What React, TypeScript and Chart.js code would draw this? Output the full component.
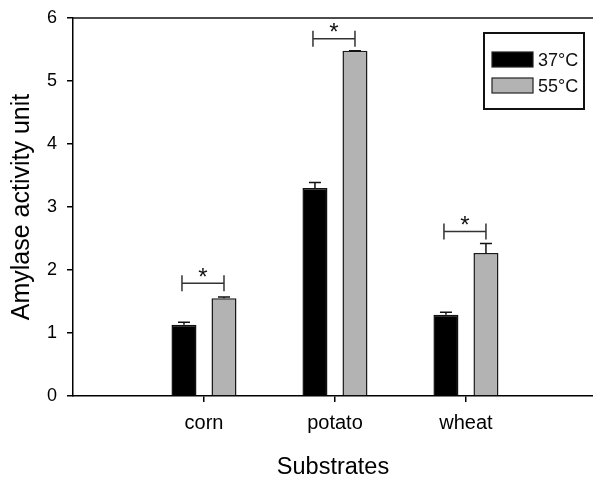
import React, { useEffect, useRef } from 'react';
import { Chart, registerables } from 'chart.js';

Chart.register(...registerables);

// ---- data ----
const categories = ['corn', 'potato', 'wheat'];
const seriesLabels = ['37°C', '55°C'];
const values37 = [1.13, 3.3, 1.29];
const values55 = [1.55, 5.48, 2.27];
const errors37 = [0.04, 0.09, 0.04];
const errors55 = [0.02, 0.0, 0.15];
const sigLevels = [1.79, 5.67, 2.61];
const sigMarks = ['*', '*', '*'];
const yTickMin = 0;
const yTickMax = 6;
const yTickStep = 1;
const xRangeMax = 3.97;

const FONT = "'Liberation Sans', Arial, Helvetica, sans-serif";
const colors = ['#000000', '#b3b3b3'];

const toPoints = (vals: number[]) => vals.map((v, i) => ({ x: i + 1, y: v }));

const overlayPlugin = {
  id: 'overlay',
  afterDatasetsDraw(chart: any) {
    const ctx = chart.ctx;
    const { chartArea } = chart;
    const y = chart.scales.y;
    ctx.save();
    // top frame
    ctx.strokeStyle = '#111';
    ctx.lineWidth = 1.5;
    ctx.beginPath();
    ctx.moveTo(chartArea.left, chartArea.top);
    ctx.lineTo(chartArea.right, chartArea.top);
    ctx.stroke();

    // error bars (upper only)
    const errs = [errors37, errors55];
    chart.data.datasets.forEach((ds: any, di: number) => {
      const meta = chart.getDatasetMeta(di);
      meta.data.forEach((bar: any, i: number) => {
        const v = ds.data[i].y;
        const e = errs[di][i];
        const yTop = y.getPixelForValue(v + e);
        const yBar = y.getPixelForValue(v);
        ctx.strokeStyle = '#111';
        ctx.lineWidth = 1.5;
        ctx.beginPath();
        ctx.moveTo(bar.x, yBar);
        ctx.lineTo(bar.x, yTop);
        ctx.moveTo(bar.x - 6, yTop);
        ctx.lineTo(bar.x + 6, yTop);
        ctx.stroke();
      });
    });

    // significance brackets
    const m0 = chart.getDatasetMeta(0);
    const m1 = chart.getDatasetMeta(1);
    sigLevels.forEach((lvl, i) => {
      const x1 = m0.data[i].x - 2;
      const x2 = m1.data[i].x;
      const yy = y.getPixelForValue(lvl);
      ctx.strokeStyle = '#333';
      ctx.lineWidth = 1.5;
      ctx.beginPath();
      ctx.moveTo(x1, yy - 8);
      ctx.lineTo(x1, yy + 8);
      ctx.moveTo(x1, yy);
      ctx.lineTo(x2, yy);
      ctx.moveTo(x2, yy - 8);
      ctx.lineTo(x2, yy + 8);
      ctx.stroke();
      ctx.fillStyle = '#111';
      ctx.font = `24px ${FONT}`;
      ctx.textAlign = 'center';
      ctx.textBaseline = 'alphabetic';
      ctx.fillText(sigMarks[i], (x1 + x2) / 2, yy - 11 + 12.5);
    });

    // legend box
    ctx.strokeStyle = '#111';
    ctx.lineWidth = 2;
    ctx.strokeRect(484, 33, 100, 76);
    const rows = [60, 86];
    seriesLabels.forEach((lab, k) => {
      const cy = rows[k];
      ctx.fillStyle = colors[k];
      ctx.fillRect(492, cy - 8, 41, 15);
      ctx.strokeStyle = '#222';
      ctx.lineWidth = 1.2;
      ctx.strokeRect(492, cy - 8, 41, 15);
      ctx.fillStyle = '#111';
      ctx.font = `18px ${FONT}`;
      ctx.textAlign = 'left';
      ctx.textBaseline = 'middle';
      ctx.fillText(lab, 538, cy + 1);
    });
    ctx.restore();
  },
};

export default function App() {
  const ref = useRef<HTMLCanvasElement | null>(null);
  useEffect(() => {
    if (!ref.current) return;
    const chart = new Chart(ref.current, {
      type: 'bar',
      data: {
        datasets: [
          {
            label: seriesLabels[0],
            data: toPoints(values37),
            backgroundColor: colors[0],
            borderColor: '#111',
            borderWidth: 1.5,
            categoryPercentage: 0.611,
            barPercentage: 0.625,
          },
          {
            label: seriesLabels[1],
            data: toPoints(values55),
            backgroundColor: colors[1],
            borderColor: '#1a1a1a',
            borderWidth: 1.5,
            categoryPercentage: 0.611,
            barPercentage: 0.625,
          },
        ],
      },
      options: {
        animation: false,
        responsive: false,
        maintainAspectRatio: false,
        layout: { padding: { top: 18, right: 0, left: 0, bottom: 0 } },
        plugins: {
          legend: { display: false },
          tooltip: { enabled: false },
        },
        scales: {
          x: {
            type: 'linear',
            min: 0,
            max: xRangeMax,
            offset: false,
            afterBuildTicks: (s: any) => {
              s.ticks = categories.map((_, i) => ({ value: i + 1 }));
            },
            grid: {
              offset: false,
              drawOnChartArea: false,
              drawTicks: true,
              tickLength: 6,
              lineWidth: 1.5,
              color: '#000',
            },
            border: { color: '#000', width: 1.5 },
            ticks: {
              color: '#000',
              font: { family: FONT, size: 20 },
              padding: 9,
              autoSkip: false,
              maxRotation: 0,
              callback: (v: any) => categories[Math.round(v) - 1] ?? '',
            },
            title: {
              display: true,
              text: 'Substrates',
              color: '#000',
              font: { family: FONT, size: 23.5, lineHeight: 1 },
              padding: { top: 0, bottom: 0 },
            },
            afterFit: (s: any) => {
              s.height = 83;
              s.paddingLeft = 0;
              s.paddingRight = 0;
            },
          },
          y: {
            min: yTickMin,
            max: yTickMax,
            grid: {
              drawOnChartArea: false,
              drawTicks: true,
              tickLength: 6,
              lineWidth: 1.5,
              color: '#000',
            },
            border: { color: '#000', width: 1.5 },
            ticks: {
              stepSize: yTickStep,
              color: '#000',
              font: { family: FONT, size: 18 },
              padding: 10,
            },
            title: {
              display: true,
              text: 'Amylase activity unit',
              color: '#000',
              font: { family: FONT, size: 25, lineHeight: 1 },
              padding: { top: 9.5, bottom: 0 },
            },
            afterFit: (s: any) => {
              s.width = 73;
              s.paddingTop = 0;
              s.paddingBottom = 0;
            },
          },
        },
      },
      plugins: [overlayPlugin],
    });
    return () => chart.destroy();
  }, []);

  return (
    <div
      style={{
        position: 'absolute',
        left: 0,
        top: 0,
        width: 593,
        height: 479,
        overflow: 'hidden',
        background: '#fff',
      }}
    >
      <canvas ref={ref} width={593} height={479} style={{ width: 593, height: 479, display: 'block' }} />
    </div>
  );
}
